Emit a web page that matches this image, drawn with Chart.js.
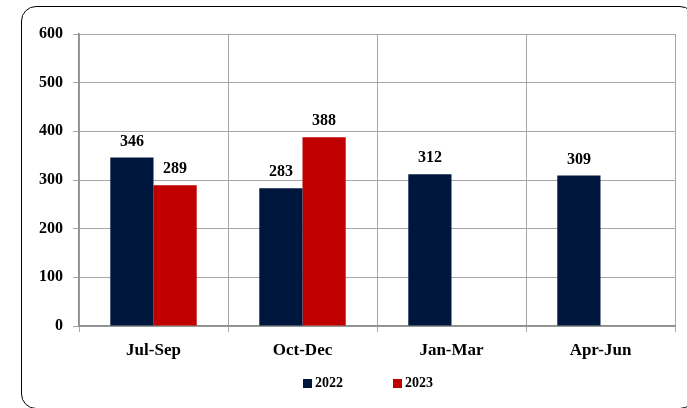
<!DOCTYPE html>
<html lang="en">
<head>
  <meta charset="UTF-8">
  <title>Quarterly values 2022-2023</title>
  <script src="https://cdn.jsdelivr.net/npm/chart.js"></script>
  <style>
    body {
      margin: 0;
      padding: 0;
      background: #fff;
      font-family: 'Liberation Serif', serif;
    }
    .wrap {
      position: relative;
      width: 687px;
      height: 408px;
      overflow: hidden;
    }
    .frame {
      position: absolute;
      left: 21px;
      top: 6px;
      width: 674px;
      height: 403px;
      border: 1.5px solid #000;
      border-radius: 15px;
      box-sizing: border-box;
      pointer-events: none;
    }
    .legend {
      position: absolute;
      top: 375px;
      left: 0;
      width: 687px;
      height: 16px;
      font-weight: bold;
      font-size: 14px;
      color: #000;
    }
    .legend span {
      position: absolute;
      top: 0;
      line-height: 16px;
    }
    .legend i {
      position: absolute;
      top: 4px;
      width: 9px;
      height: 9px;
    }
  </style>
</head>
<body>
  <div class="wrap">
    <canvas id="chart" width="687" height="408"></canvas>
    <div class="frame"></div>
    <div class="legend" id="legend"></div>
  </div>
  <script>
    // Data
    const quarters = ['Jul-Sep', 'Oct-Dec', 'Jan-Mar', 'Apr-Jun'];
    const values2022 = [346, 283, 312, 309];
    const values2023 = [289, 388, null, null];
    const seriesNames = ['2022', '2023'];
    const seriesColors = ['#00173D', '#C00000'];

    const font = 'Liberation Serif';

    // Value labels above each bar
    const barLabels = {
      id: 'barLabels',
      afterDatasetsDraw(chart) {
        const ctx = chart.ctx;
        ctx.save();
        ctx.font = 'bold 16px "' + font + '"';
        ctx.fillStyle = '#000';
        ctx.textAlign = 'center';
        ctx.textBaseline = 'bottom';
        chart.data.datasets.forEach((ds, i) => {
          const meta = chart.getDatasetMeta(i);
          meta.data.forEach((bar, j) => {
            if (ds.data[j] == null) return;
            ctx.fillText(ds.data[j], bar.x, bar.y - 8);
          });
        });
        ctx.restore();
      }
    };

    // Legend drawn as html below the chart
    const legendEl = document.getElementById('legend');
    const legendX = [303, 393];
    seriesNames.forEach((name, i) => {
      const box = document.createElement('i');
      box.style.left = legendX[i] + 'px';
      box.style.background = seriesColors[i];
      const txt = document.createElement('span');
      txt.style.left = (legendX[i] + 12) + 'px';
      txt.textContent = name;
      legendEl.appendChild(box);
      legendEl.appendChild(txt);
    });

    const ctx = document.getElementById('chart').getContext('2d');
    new Chart(ctx, {
      type: 'bar',
      data: {
        labels: quarters,
        datasets: [
          { label: seriesNames[0], data: values2022, backgroundColor: seriesColors[0] },
          { label: seriesNames[1], data: values2023, backgroundColor: seriesColors[1] }
        ]
      },
      options: {
        responsive: false,
        animation: false,
        categoryPercentage: 0.58,
        barPercentage: 1.0,
        layout: {
          padding: { top: 34, right: 12, left: 0, bottom: 0 }
        },
        plugins: {
          legend: { display: false },
          tooltip: { enabled: false }
        },
        scales: {
          x: {
            grid: {
              color: '#A6A6A6',
              lineWidth: 1,
              tickLength: 6,
              offset: true
            },
            border: { color: '#8C8C8C', width: 1.5 },
            ticks: {
              color: '#000',
              padding: 8,
              font: { family: font, size: 17, weight: 'bold' }
            },
            afterFit(scale) { scale.height = 82; }
          },
          y: {
            min: 0,
            max: 600,
            ticks: {
              stepSize: 100,
              color: '#000',
              padding: 10,
              font: { family: font, size: 16, weight: 'bold' }
            },
            grid: {
              color: '#A6A6A6',
              lineWidth: 1,
              tickLength: 6
            },
            border: { color: '#8C8C8C', width: 1.5 },
            afterFit(scale) { scale.width = 79; }
          }
        }
      },
      plugins: [barLabels]
    });
  </script>
</body>
</html>
